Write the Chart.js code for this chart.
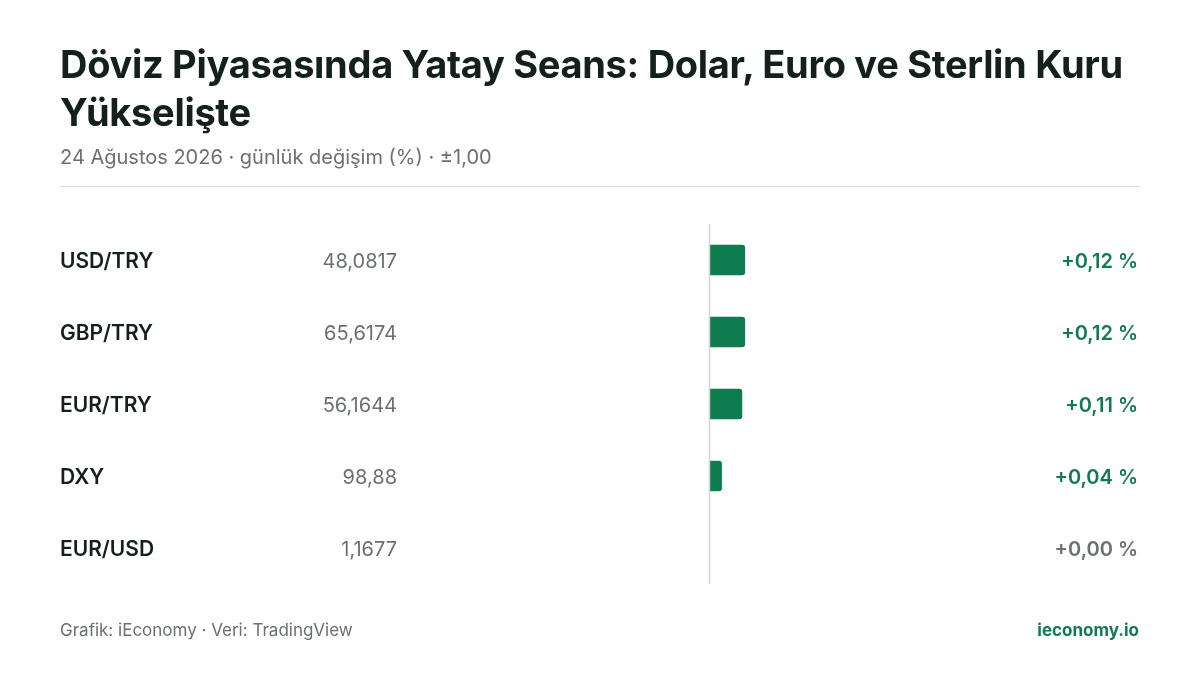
<!DOCTYPE html>
<html><head><meta charset="utf-8">
<script src="https://cdn.jsdelivr.net/npm/chart.js@4"></script>
<style>
body{margin:0;background:#fff;font-family:Inter,sans-serif;}
#wrap{position:relative;width:1200px;height:675px;}
canvas{position:absolute;left:0;top:0;}
.t{position:absolute;left:60px;top:40px;width:1120px;font-size:38px;font-weight:700;color:#13201b;line-height:48px;letter-spacing:-0.3px}
.s{position:absolute;left:60px;top:145px;font-size:20px;color:#6b716e}
.hr{position:absolute;left:60px;top:186px;width:1080px;height:1px;background:#d9dcdb}
.f{position:absolute;left:60px;top:620px;font-size:17px;color:#6b716e}
.b{position:absolute;right:61px;top:620px;font-size:17px;color:#0e7c4f;font-weight:700}
</style></head><body>
<div id="wrap">
<canvas id="c" width="1200" height="675"></canvas>
<div class="t">Döviz Piyasasında Yatay Seans: Dolar, Euro ve Sterlin Kuru Yükselişte</div>
<div class="s">24 Ağustos 2026 · günlük değişim (%) · ±1,00</div>
<div class="hr"></div>
<div class="f">Grafik: iEconomy · Veri: TradingView</div>
<div class="b">ieconomy.io</div>
</div>
<script>
const categories=["USD/TRY","GBP/TRY","EUR/TRY","DXY","EUR/USD"];
const prices=["48,0817","65,6174","56,1644","98,88","1,1677"];
const changes=[0.12,0.12,0.11,0.04,0.00];
const pctLabels=["+0,12 %","+0,12 %","+0,11 %","+0,04 %","+0,00 %"];
const GREEN="#0e7c4f";
const rows={id:'rows',
 afterDatasetsDraw(ch){const x=ch.scales.x,a=ch.chartArea,c=ch.ctx;const x0=Math.round(x.getPixelForValue(0))-0.5;
  c.save();c.strokeStyle="#d0d3d2";c.lineWidth=1.5;c.beginPath();c.moveTo(x0,a.top);c.lineTo(x0,a.bottom);c.stroke();c.restore();},
 afterDraw(ch){const y=ch.scales.y,c=ch.ctx;c.save();c.textBaseline="middle";
  categories.forEach((k,i)=>{const py=y.getPixelForValue(i)+1.5;
   c.font="600 21px Inter";c.fillStyle="#13201b";c.textAlign="left";c.fillText(k,60,py);
   c.font="400 20px Inter";c.fillStyle="#6b716e";c.textAlign="right";c.fillText(prices[i],397,py);
   c.font="600 20px Inter";c.fillStyle=changes[i]>0?GREEN:"#6b716e";c.fillText(pctLabels[i],1138,py);});
  c.restore();}};
new Chart(document.getElementById('c'),{type:'bar',
 data:{labels:categories,datasets:[{data:changes,backgroundColor:changes.map(v=>v>0?GREEN:'rgba(0,0,0,0)'),borderRadius:3,borderSkipped:'start',barThickness:30}]},
 options:{indexAxis:'y',responsive:false,animation:false,events:[],
  layout:{padding:{left:420,right:200,top:224,bottom:91}},
  plugins:{legend:{display:false},tooltip:{enabled:false}},
  scales:{x:{min:-1,max:1,display:false},y:{display:false}}},
 plugins:[rows]});
</script></body></html>
